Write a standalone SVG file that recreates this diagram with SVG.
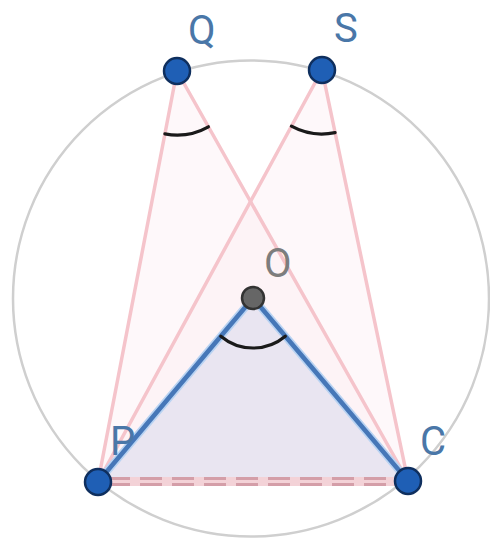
<svg xmlns="http://www.w3.org/2000/svg" width="490" height="542" viewBox="0 0 490 542">
<style>
.pink{stroke:#f5c4cb;stroke-width:3.5;fill:none;stroke-linecap:round}
.blueh{stroke:#b9d3f2;stroke-width:8;fill:none;stroke-linecap:round}
.blue{stroke:#4677b8;stroke-width:4.5;fill:none;stroke-linecap:round}
.arc{stroke:#1a1a1a;stroke-width:3.2;fill:none;stroke-linecap:round}
.pt{fill:#1f5fb5;stroke:#0f2f5e;stroke-width:2.5}
.lbl{font-family:Roboto,"Liberation Sans",sans-serif;font-size:40px;fill:#4a77a8}
</style>
<rect width="490" height="542" fill="#ffffff"/>
<circle id="circle" cx="251" cy="298.5" r="238" fill="none" stroke="#cfcfcf" stroke-width="2.5"/>
<g id="fills">
<polygon points="177,71 98,482 408,481" fill="#fde9ed" fill-opacity="0.3"/>
<polygon points="322,70 98,482 408,481" fill="#fde9ed" fill-opacity="0.3"/>
<polygon points="253,298 98,482 408,481" fill="#e9e5f1"/>
</g>
<g id="connectors">
<line class="pink" x1="177" y1="71" x2="98" y2="482"/>
<line class="pink" x1="177" y1="71" x2="408" y2="481"/>
<line class="pink" x1="322" y1="70" x2="98" y2="482"/>
<line class="pink" x1="322" y1="70" x2="408" y2="481"/>
<line x1="104" y1="481.5" x2="402" y2="481.5" stroke="#f3d2d7" stroke-width="9"/>
<line x1="108" y1="478.5" x2="400" y2="478.5" stroke="#d49ea8" stroke-width="3" stroke-dasharray="22,10"/>
<line x1="108" y1="484.5" x2="400" y2="484.5" stroke="#d49ea8" stroke-width="3" stroke-dasharray="22,10"/>
<line class="blueh" x1="253" y1="298" x2="98" y2="482"/>
<line class="blueh" x1="253" y1="298" x2="408" y2="481"/>
<line class="blue" x1="253" y1="298" x2="98" y2="482"/>
<line class="blue" x1="253" y1="298" x2="408" y2="481"/>
<path class="arc" d="M164.9,133.9 A64,64 0 0 0 208.4,126.8"/>
<path class="arc" d="M291.4,126.2 A64,64 0 0 0 335.1,132.6"/>
<path class="arc" d="M220.8,336.2 A50,50 0 0 0 285.3,336.2"/>
</g>
<g id="Q"><circle class="pt" cx="177" cy="71" r="13"/><text class="lbl" x="188" y="44">Q</text></g>
<g id="S"><circle class="pt" cx="322" cy="70" r="13"/><text class="lbl" x="334" y="42">S</text></g>
<g id="O"><circle cx="253" cy="298" r="11" fill="#666666" stroke="#333333" stroke-width="2.5"/><text class="lbl" x="264" y="277" style="fill:#7d7d7d">O</text></g>
<g id="P"><circle class="pt" cx="98" cy="482" r="13"/><text class="lbl" x="110" y="455">P</text></g>
<g id="C"><circle class="pt" cx="408" cy="481" r="13"/><text class="lbl" x="420" y="455">C</text></g>
</svg>
